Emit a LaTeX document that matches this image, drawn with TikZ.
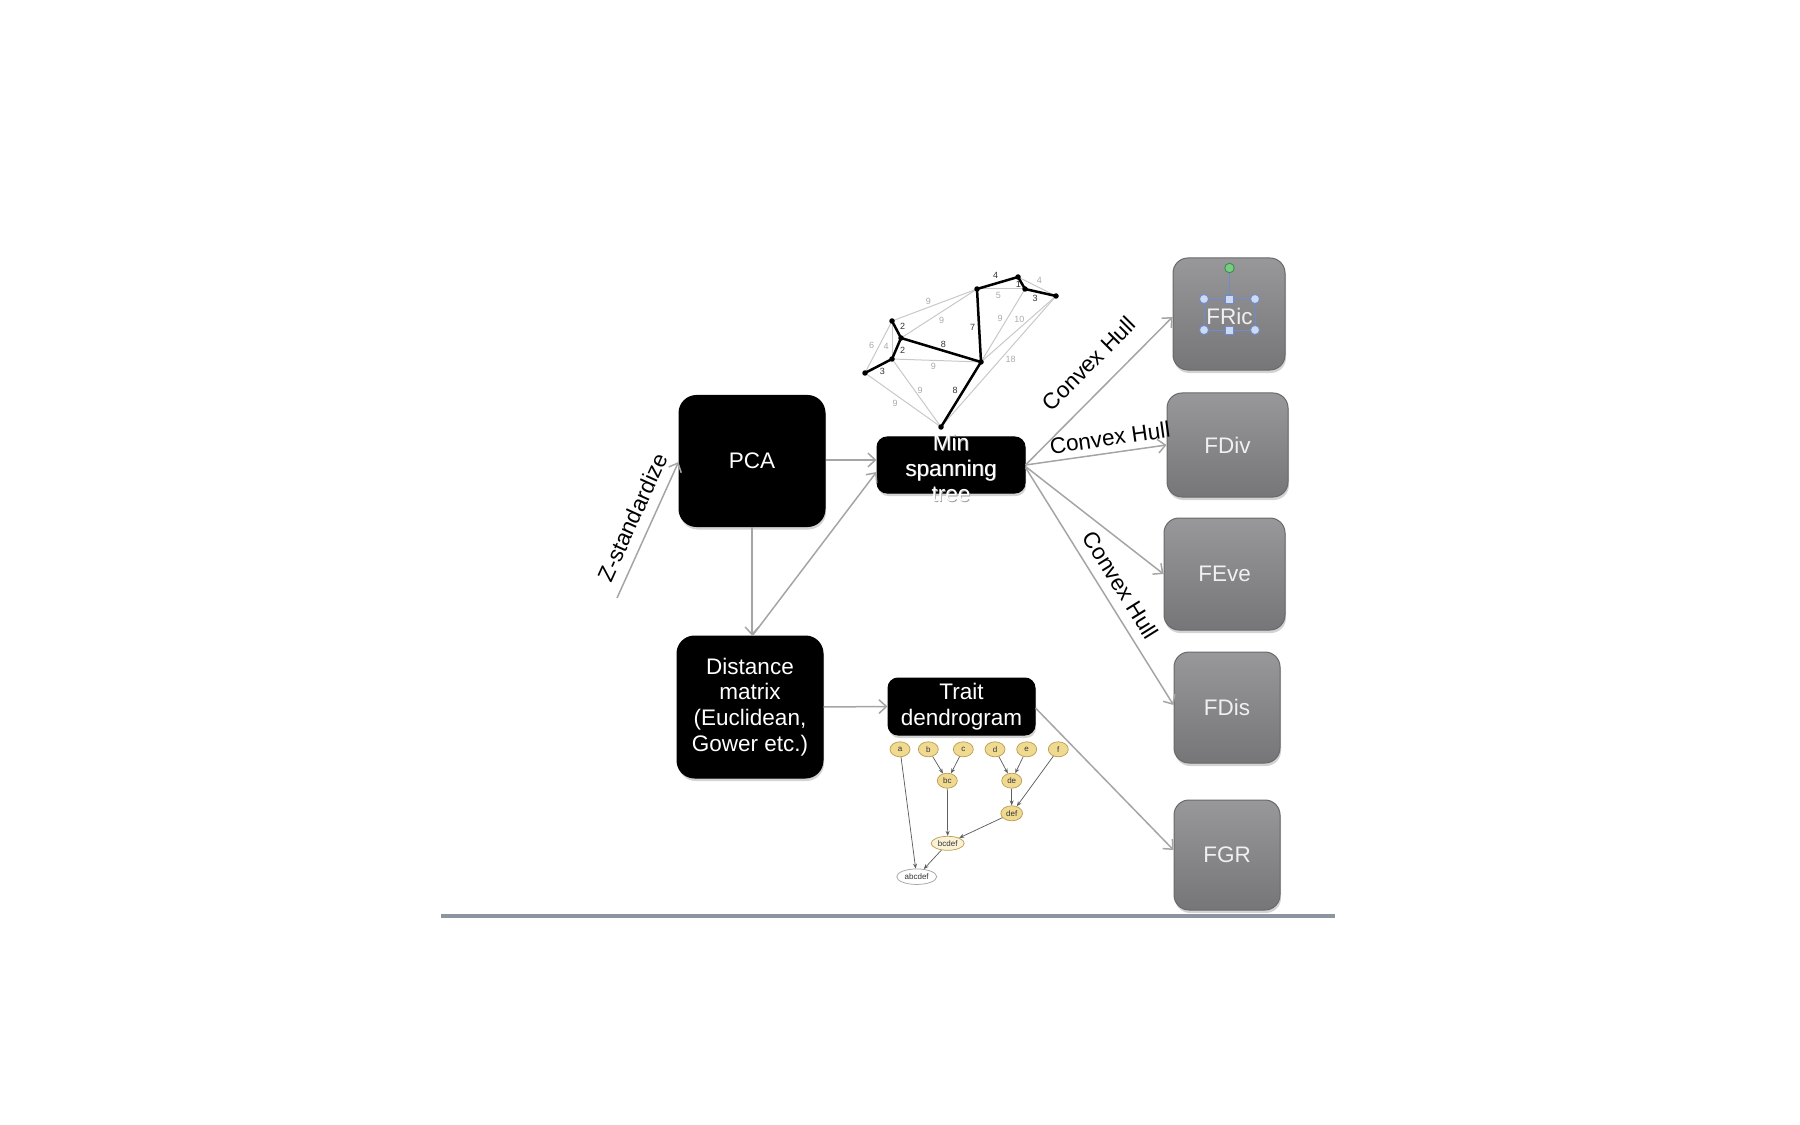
\documentclass[tikz,border=0pt]{standalone}
\usepackage{fontspec}
\setmainfont{Liberation Sans}
\usetikzlibrary{arrows.meta,shapes.geometric,shadows,calc}
\definecolor{flowgray}{RGB}{165,165,165}
\definecolor{gtop}{RGB}{152,152,155}
\definecolor{gbot}{RGB}{118,118,121}
\definecolor{gborder}{RGB}{105,105,108}
\definecolor{gtext}{RGB}{240,240,240}
\definecolor{dfill}{RGB}{240,218,145}
\definecolor{dborder}{RGB}{190,160,80}
\definecolor{dcream}{RGB}{250,242,215}
\definecolor{dlinecol}{RGB}{95,95,95}
\definecolor{mstlightcol}{RGB}{200,200,200}
\definecolor{mstnumlight}{RGB}{170,170,170}
\definecolor{selblue}{RGB}{110,140,205}
\definecolor{selfill}{RGB}{205,218,242}
\definecolor{rotgreen}{RGB}{120,205,130}
\definecolor{rotgreenb}{RGB}{60,140,75}
\definecolor{bottomline}{RGB}{140,148,162}
\begin{document}
\begin{tikzpicture}[x=0.4pt,y=-0.4pt,
  boxfont/.style={font=\fontsize{9}{10.3}\selectfont},
  blackbox/.style={draw=black, fill=black, rounded corners=7pt, inner sep=0pt, align=center, text=white, boxfont,
    drop shadow={opacity=0.35, shadow xshift=0.4pt, shadow yshift=-1.2pt}},
  graybox/.style={draw=gborder, line width=0.4pt, top color=gtop, bottom color=gbot, rounded corners=6pt, inner sep=0pt, text=gtext, boxfont,
    drop shadow={opacity=0.35, shadow xshift=0.4pt, shadow yshift=-1.2pt}},
  boxtext/.style={boxfont, align=center, inner sep=0pt, text=white},
  flow/.style={draw=flowgray, line width=0.6pt, -{Straight Barb[length=3pt,width=5.5pt]}},
  hull/.style={sloped, above, boxfont, text=black, inner xsep=0pt},
  mstlight/.style={draw=mstlightcol, line width=0.4pt},
  mstdark/.style={draw=black, line width=1pt},
  mstdot/.style={fill=black},
  mstnum/.style={font=\fontsize{3.6}{4}\selectfont, inner sep=0pt, text=black!80},
  mstnuml/.style={font=\fontsize{3.6}{4}\selectfont, inner sep=0pt, text=mstnumlight},
  dn/.style={ellipse, draw=dborder, fill=dfill, line width=0.3pt, inner sep=0pt, minimum width=8pt, minimum height=6pt,
    font=\fontsize{3.2}{3.5}\selectfont, text=black!80},
  darrow/.style={draw=dlinecol, line width=0.3pt, -{Stealth[length=2pt,width=1.6pt]}},
  selline/.style={draw=selblue, line width=0.35pt},
  selhandle/.style={draw=selblue, fill=selfill, line width=0.35pt}
]
\useasboundingbox (0,0) rectangle (1800,1125);

% ---------- minimum spanning tree illustration ----------
\coordinate (mA) at (892,321);
\coordinate (mB) at (901,338);
\coordinate (mC) at (892,359);
\coordinate (mD) at (865,373);
\coordinate (mE) at (977,289);
\coordinate (mF) at (1018,277);
\coordinate (mG) at (1025,289);
\coordinate (mH) at (1056,296);
\coordinate (mI) at (981,362);
\coordinate (mJ) at (941,427);
\draw[mstlight] (mA) -- (mE);
\draw[mstlight] (mB) -- (mE);
\draw[mstlight] (mA) -- (mC);
\draw[mstlight] (mA) -- (mD);
\draw[mstlight] (mC) -- (mI);
\draw[mstlight] (mC) -- (mJ);
\draw[mstlight] (mD) -- (mJ);
\draw[mstlight] (mE) -- (mG);
\draw[mstlight] (mF) -- (mH);
\draw[mstlight] (mG) -- (mI);
\draw[mstlight] (mH) -- (mI);
\draw[mstlight] (mH) -- (mJ);
\draw[mstdark] (mA) -- (mB);
\draw[mstdark] (mB) -- (mC);
\draw[mstdark] (mC) -- (mD);
\draw[mstdark] (mB) -- (mI);
\draw[mstdark] (mE) -- (mI);
\draw[mstdark] (mE) -- (mF);
\draw[mstdark] (mF) -- (mG);
\draw[mstdark] (mG) -- (mH);
\draw[mstdark] (mI) -- (mJ);
\foreach \p in {mA,mB,mC,mD,mE,mF,mG,mH,mI,mJ}{\fill[mstdot] (\p) circle (1.1pt);}
\node[mstnum] (n1) at (902.7,326.7) {2};
\node[mstnum] (n2) at (902.7,350.7) {2};
\node[mstnum] (n3) at (882.3,371.7) {3};
\node[mstnum] (n4) at (943.3,344) {8};
\node[mstnum] (n5) at (972.7,327.3) {7};
\node[mstnum] (n6) at (995.7,275.7) {4};
\node[mstnum] (n7) at (1018.3,284.3) {1};
\node[mstnum] (n8) at (1035,298.3) {3};
\node[mstnum] (n9) at (955,390) {8};
\node[mstnuml] (l1) at (928.3,301.7) {9};
\node[mstnuml] (l2) at (941.7,320) {9};
\node[mstnuml] (l3) at (886,346.7) {4};
\node[mstnuml] (l4) at (871.7,345) {6};
\node[mstnuml] (l5) at (933.3,366.7) {9};
\node[mstnuml] (l6) at (920,390) {9};
\node[mstnuml] (l7) at (895,403.3) {9};
\node[mstnuml] (l8) at (998.3,295.7) {5};
\node[mstnuml] (l9) at (1039.3,280.7) {4};
\node[mstnuml] (l10) at (1000,318.3) {9};
\node[mstnuml] (l11) at (1019.3,319.3) {10};
\node[mstnuml] (l12) at (1010.7,359.3) {18};

% ---------- main boxes ----------
\node[blackbox, minimum width=58.4pt, minimum height=52.4pt] (pca) at (752,461) {PCA};
\node[blackbox, minimum width=58.4pt, minimum height=56.8pt] (dist) at (750,707) {Distance\\matrix\\(Euclidean,\\Gower etc.)};
\node[blackbox, rounded corners=4pt, minimum width=59.2pt, minimum height=22.4pt] (mst) at (951,465) {};
\node[boxtext, text=gray!75] (mstshadow) at ([xshift=0.3pt,yshift=-0.3pt]951,468) {Min\\spanning\\tree};
\node[boxtext] (msttext) at (951,468) {Min\\spanning\\tree};
\node[blackbox, rounded corners=4pt, minimum width=58.8pt, minimum height=22.8pt] (trait) at (961.5,706.5) {Trait\\dendrogram};

\node[graybox, minimum width=44.8pt, minimum height=44.8pt] (fric) at (1229,314) {};
\node[boxtext, text=gtext] (frictext) at (1229.5,316) {FRic};
\node[graybox, minimum width=48.4pt, minimum height=41.6pt] (fdiv) at (1227.5,445) {FDiv};
\node[graybox, minimum width=48.4pt, minimum height=44.8pt] (feve) at (1224.5,574) {FEve};
\node[graybox, minimum width=42.4pt, minimum height=44.4pt] (fdis) at (1227,707.5) {FDis};
\node[graybox, minimum width=42.4pt, minimum height=44pt] (fgr) at (1227,855) {FGR};

% selection handles on FRic
\coordinate (sTL) at (1204,299);
\coordinate (sTR) at (1255,299);
\coordinate (sBL) at (1204,330);
\coordinate (sBR) at (1255,330);
\coordinate (sTM) at (1229.5,299);
\coordinate (sBM) at (1229.5,330);
\coordinate (sRot) at (1229.5,268);
\draw[selline] (sTL) rectangle (sBR);
\draw[selline] (sRot) -- (sTM);
\foreach \p in {sTL,sTR,sBL,sBR}{\draw[selhandle] (\p) circle (1.8pt);}
\foreach \p in {sTM,sBM}{\draw[selhandle] ([xshift=-1.6pt,yshift=-1.6pt]\p) rectangle ([xshift=1.6pt,yshift=1.6pt]\p);}
\draw[draw=rotgreenb, fill=rotgreen, line width=0.35pt] (sRot) circle (1.9pt);

% ---------- connectors ----------
\coordinate (zs) at (617,598);
\draw[flow] (zs) -- node[hull, pos=0.537, inner ysep=4pt] {Z-standardize} ([yshift=-0.4pt]pca.west);
\draw[flow] ([yshift=0.4pt]pca.east) -- ([yshift=0.4pt]pca.east -| mst.west);
\draw[flow] (pca.south) -- (pca.south |- dist.north);
\draw[flow] ([xshift=1pt]dist.north) -- ([yshift=-2.8pt]mst.west);
\draw[flow] (dist.east) -- (trait.west);
\draw[flow] (mst.east) -- node[hull, pos=0.56, inner ysep=7pt] {Convex Hull} ([yshift=-1.2pt]fric.west);
\draw[flow] (mst.east) -- node[hull, pos=0.614, inner ysep=2.5pt] {Convex Hull} (fdiv.west);
\draw[flow] ([yshift=-0.6pt]mst.east) -- (feve.west);
\draw[flow] ([yshift=-1pt]mst.east) -- node[hull, pos=0.536, inner ysep=3.9pt] {Convex Hull} ([yshift=1pt]fdis.west);
\draw[flow] ([yshift=-0.6pt]trait.east) -- ([yshift=2pt]fgr.west);

% ---------- dendrogram illustration ----------
\node[dn] (da) at (900,749.3) {a};
\node[dn] (db) at (928.3,749.3) {b};
\node[dn] (dc) at (963.3,749.3) {c};
\node[dn] (dd) at (995,749.3) {d};
\node[dn] (de) at (1026.7,749.3) {e};
\node[dn] (df) at (1058.3,749.3) {f};
\node[dn] (dbc) at (947.3,780.7) {bc};
\node[dn] (dde) at (1011.7,780.7) {de};
\node[dn, minimum width=8.7pt] (ddef) at (1011.7,813.3) {def};
\node[dn, fill=dcream, minimum width=13.2pt, minimum height=5.6pt] (dbcdef) at (947.7,843.3) {bcdef};
\node[dn, fill=white, draw=gray!70, minimum width=16pt, minimum height=6.2pt] (dabcdef) at (916.7,876.7) {abcdef};
\draw[darrow] (db) -- (dbc);
\draw[darrow] (dc) -- (dbc);
\draw[darrow] (dd) -- (dde);
\draw[darrow] (de) -- (dde);
\draw[darrow] (dde) -- (ddef);
\draw[darrow] (df) -- (ddef);
\draw[darrow] (dbc) -- (dbcdef);
\draw[darrow] (ddef) -- (dbcdef);
\draw[darrow] (da) -- (dabcdef);
\draw[darrow] (dbcdef) -- (dabcdef);

% ---------- bottom rule ----------
\draw[draw=bottomline, line width=1.8pt] (441,916) -- (1335,916);
\end{tikzpicture}
\end{document}
